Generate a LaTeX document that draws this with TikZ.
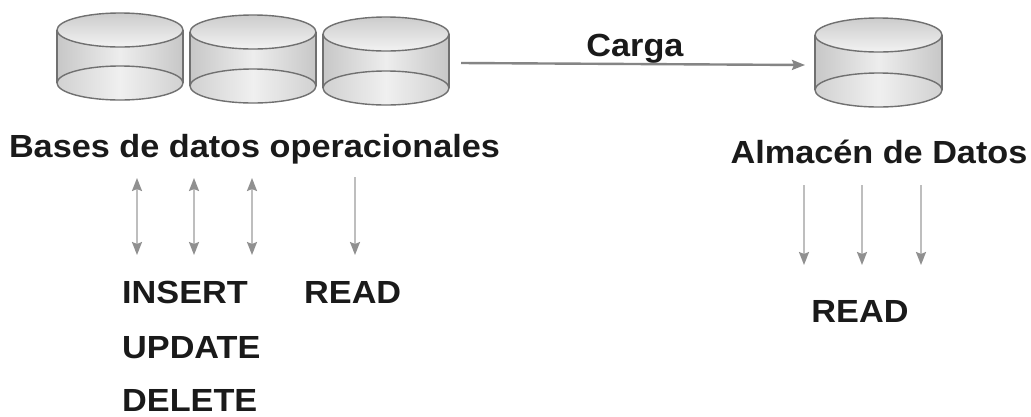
\documentclass[tikz,border=0pt]{standalone}
\usepackage{fontspec}
\setmainfont[FakeStretch=1.07]{Liberation Sans}
\usetikzlibrary{arrows.meta}
\definecolor{edgegray}{HTML}{707070}
\definecolor{arrowgray}{HTML}{BEBEBE}
\definecolor{headgray}{HTML}{909090}
\definecolor{loadgray}{HTML}{858585}
\definecolor{textdark}{HTML}{1A1A1A}
\tikzset{
  x=1pt,y=-1pt,
  label text/.style={font=\fontsize{32}{36}\bfseries\selectfont,text=textdark,inner sep=0pt,anchor=base},
  flow/.style={draw=arrowgray,line width=2pt,-{Stealth[length=13pt,width=10pt,inset=2pt,color=headgray]}},
  flowboth/.style={draw=arrowgray,line width=2pt,{Stealth[length=13pt,width=10pt,inset=2pt,color=headgray]}-{Stealth[length=13pt,width=10pt,inset=2pt,color=headgray]}},
  loadflow/.style={draw=loadgray,line width=2.4pt,-{Stealth[length=13pt,width=10pt,inset=2pt,color=loadgray]}},
  cyl edge/.style={draw=edgegray,line width=1.4pt}
}
\newcommand{\mycyl}[4]{% left, right, top centre y, bottom centre y
  \pgfmathsetmacro{\cxx}{(#1+#2)/2}
  \pgfmathsetmacro{\rxx}{(#2-#1)/2}
  \path[left color=black!22,right color=black!22,middle color=black!7]
    (#1,#3) -- (#1,#4) arc[start angle=180,end angle=360,x radius=\rxx,y radius=-17] -- (#2,#3) -- cycle;
  \path[left color=black!18,right color=black!18,middle color=black!6]
    (\cxx,#4) ellipse[x radius=\rxx,y radius=17];
  \path[top color=black!20,bottom color=black!5]
    (\cxx,#3) ellipse[x radius=\rxx,y radius=17];
  \draw[cyl edge] (\cxx,#3) ellipse[x radius=\rxx,y radius=17];
  \draw[cyl edge] (\cxx,#4) ellipse[x radius=\rxx,y radius=17];
  \draw[cyl edge] (#1,#3) -- (#1,#4) (#2,#3) -- (#2,#4);
}
\begin{document}
\begin{tikzpicture}
\useasboundingbox (0,0) rectangle (1031,416);
\fill[white] (0,0) rectangle (1031,416);
\mycyl{57}{183}{30}{83}
\mycyl{190}{316}{32}{86}
\mycyl{323}{449}{34}{88}
\mycyl{815}{942}{35}{90}

\coordinate (loadstart) at (461,63);
\coordinate (loadend) at (805,65);
\draw[loadflow] (loadstart) -- (loadend);

\node[label text] (carga) at (635,56) {Carga};
\node[label text] (opdb) at (254.5,157) {Bases de datos operacionales};
\node[label text] (dw) at (879,163) {Almacén de Datos};
\node[label text,anchor=base west] (insert) at (122,303) {INSERT};
\node[label text,anchor=base west] (update) at (122,358) {UPDATE};
\node[label text,anchor=base west] (delete) at (122,411) {DELETE};
\node[label text,anchor=base west] (read1) at (304,303) {READ};
\node[label text] (read2) at (860,322) {READ};

\coordinate (a1t) at (137,178); \coordinate (a1b) at (137,255);
\coordinate (a2t) at (194,178); \coordinate (a2b) at (194,255);
\coordinate (a3t) at (252,178); \coordinate (a3b) at (252,255);
\coordinate (a4t) at (355,177); \coordinate (a4b) at (355,255);
\coordinate (b1t) at (804,185); \coordinate (b1b) at (804,265);
\coordinate (b2t) at (862,185); \coordinate (b2b) at (862,265);
\coordinate (b3t) at (921,185); \coordinate (b3b) at (921,265);
\draw[flowboth] (a1t) -- (a1b);
\draw[flowboth] (a2t) -- (a2b);
\draw[flowboth] (a3t) -- (a3b);
\draw[flow] (a4t) -- (a4b);
\draw[flow] (b1t) -- (b1b);
\draw[flow] (b2t) -- (b2b);
\draw[flow] (b3t) -- (b3b);
\end{tikzpicture}
\end{document}
